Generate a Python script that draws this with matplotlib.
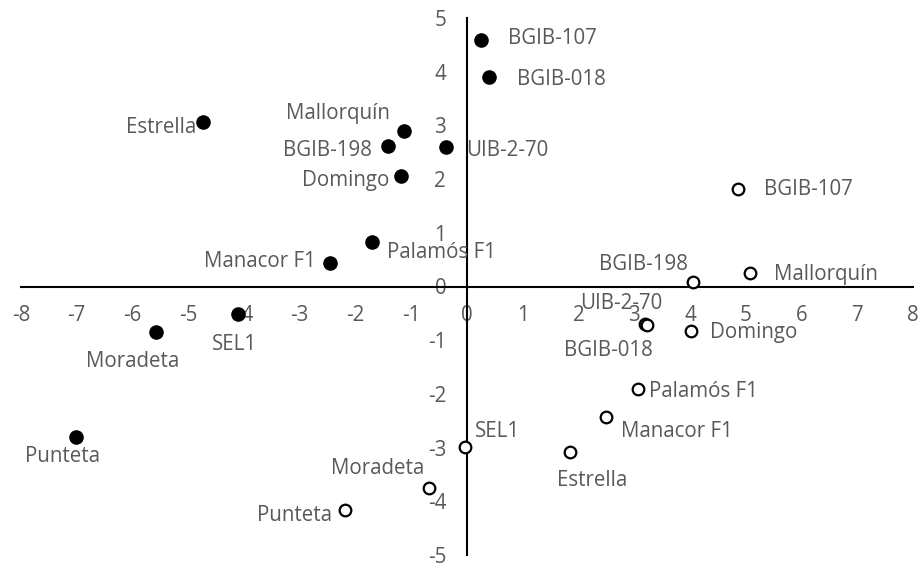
import matplotlib
matplotlib.use("Agg")
import matplotlib.pyplot as plt

# Filled series
f_names = ["BGIB-107", "BGIB-018", "Estrella", "Mallorquín", "BGIB-198", "UIB-2-70",
           "Domingo", "Palamós F1", "Manacor F1", "SEL1", "Moradeta", "Punteta"]
f_x = [0.25, 0.40, -4.73, -1.13, -1.42, -0.38, -1.19, -1.71, -2.45, -4.10, -5.58, -7.01]
f_y = [4.59, 3.91, 3.07, 2.89, 2.61, 2.59, 2.06, 0.83, 0.43, -0.52, -0.85, -2.80]

# Open series
o_names = ["BGIB-107", "Mallorquín", "BGIB-198", "UIB-2-70", "BGIB-018", "Domingo",
           "Palamós F1", "Manacor F1", "Estrella", "SEL1", "Moradeta", "Punteta"]
o_x = [4.86, 5.07, 4.05, 3.20, 3.22, 4.01, 3.06, 2.50, 1.84, -0.04, -0.68, -2.18]
o_y = [1.81, 0.26, 0.09, -0.69, -0.72, -0.83, -1.91, -2.43, -3.09, -2.98, -3.76, -4.17]

x_ticks = list(range(-8, 9))
y_ticks = list(range(-5, 6))

# label placement (offset pixels, alignment)
f_off = [((27, 2), "left"), ((28, -3), "left"), ((-7, -6), "right"), ((-66, 18), "center"),
         ((-16, -4), "right"), ((20, -3), "left"), ((-11, -5), "right"), ((15, -11), "left"),
         ((-15, 2), "right"), ((-4, -30), "center"), ((-23, -29), "center"), ((-14, -20), "center")]
o_off = [((26, 0), "left"), ((24, -2), "left"), ((-5, 17), "right"), ((-24, 20), "center"),
         ((-38, -25), "center"), ((19, -1), "left"), ((11, -2), "left"), ((15, -15), "left"),
         ((23, -28), "center"), ((10, 15), "left"), ((-51, 20), "center"), ((-13, -5), "right")]

TXT = "#595959"
FONT = "Open Sans"
FS = 14.8

fig = plt.figure(figsize=(9.22, 5.66), dpi=100)
ax = fig.add_axes([21/922, 11/566, 892/922, 537/566])
ax.set_xlim(-8, 8)
ax.set_ylim(-5, 5)

ax.scatter(f_x, f_y, s=90, c="black", zorder=3)
ax.scatter(o_x, o_y, s=70, facecolors="white", edgecolors="black", linewidths=1.6, zorder=3)

for n, x, y, (off, ha) in zip(f_names, f_x, f_y, f_off):
    ax.annotate(n, (x, y), xytext=off, textcoords="offset pixels", ha=ha, va="center",
                color=TXT, fontsize=FS, family=FONT)
for n, x, y, (off, ha) in zip(o_names, o_x, o_y, o_off):
    ax.annotate(n, (x, y), xytext=off, textcoords="offset pixels", ha=ha, va="center",
                color=TXT, fontsize=FS, family=FONT)

for s in ["top", "right"]:
    ax.spines[s].set_visible(False)
ax.spines["left"].set_position(("data", 0))
ax.spines["bottom"].set_position(("data", 0))
ax.spines["left"].set_linewidth(1.5)
ax.spines["bottom"].set_linewidth(1.5)
ax.set_xticks(x_ticks)
ax.set_yticks(y_ticks)
ax.set_xticklabels([str(t) for t in x_ticks])
ax.set_yticklabels([str(t) for t in y_ticks])
ax.tick_params(axis="x", length=0, pad=13, labelsize=FS, labelcolor=TXT)
ax.tick_params(axis="y", length=0, pad=15, labelsize=FS, labelcolor=TXT)
for lab in ax.get_xticklabels() + ax.get_yticklabels():
    lab.set_family(FONT)
ax.patch.set_visible(False)

fig.savefig("out.png", dpi=100)
